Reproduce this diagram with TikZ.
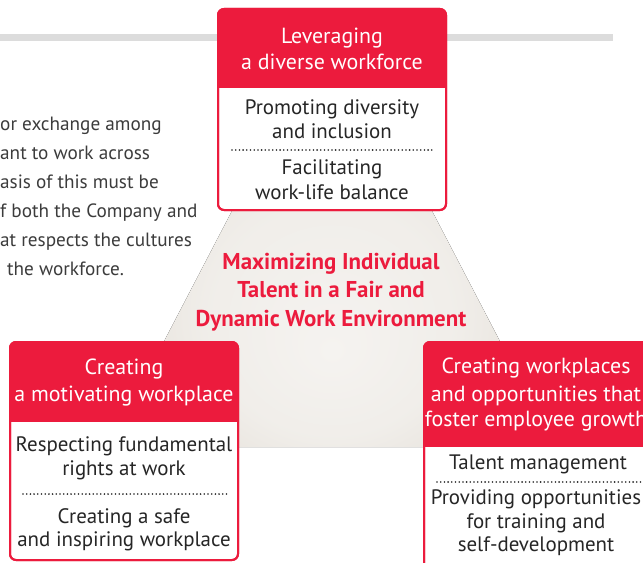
\documentclass[tikz,border=0pt]{standalone}
\usepackage{fontspec}
\setmainfont{PT Sans}
\definecolor{brand}{HTML}{EC1B3D}
\definecolor{barg}{HTML}{DCDCDC}
\definecolor{txt}{HTML}{262626}
\definecolor{bgin}{HTML}{F5F3F0}
\definecolor{bgout}{HTML}{D6CFC4}
\pgfdeclareradialshading{tri}{\pgfpoint{0bp}{-14bp}}{color(0bp)=(bgin); color(14bp)=(bgin!85!bgout); color(42bp)=(bgout); color(50bp)=(bgout)}
\tikzset{
  boxframe/.style={draw=brand, fill=white, line width=2bp, rounded corners=6bp},
  hdr/.style={text=white, font=\fontsize{22}{26}\selectfont, anchor=mid, inner sep=0pt, yshift=-4.5bp},
  bodyt/.style={text=txt, font=\fontsize{21}{24}\selectfont, anchor=mid, inner sep=0pt, yshift=-4.5bp},
  ttl/.style={text=brand, font=\bfseries\fontsize{23}{27}\selectfont, anchor=mid, inner sep=0pt, yshift=-5bp},
  para/.style={text=txt!90, font=\fontsize{19.3}{23}\selectfont, anchor=mid west, inner sep=0pt, yshift=-4.5bp},
  dotsep/.style={txt, line width=1.8bp, line cap=round, dash pattern=on 0pt off 3.7bp}
}
\begin{document}
\begin{tikzpicture}[x=1bp,y=-1bp]
\useasboundingbox (0,0) rectangle (643,563);
\clip (0,0) rectangle (643,563);
\fill[white] (0,0) rectangle (643,563);
% grey bar
\coordinate (barL) at (0,37.5);
\coordinate (barR) at (613,37.5);
\draw[barg, line width=7bp] (barL) -- (barR);
% background triangle
\fill[shading=tri, rounded corners=20bp] (332,19) -- (555,447) -- (109,447) -- cycle;
% left paragraph
\node[para] (p1) at (0,124) {or exchange among};
\node[para] (p2) at (0,153) {ant to work across};
\node[para] (p3) at (0,182) {asis of this must be};
\node[para] (p4) at (0,211) {f both the Company and};
\node[para] (p5) at (0,240) {at respects the cultures};
\node[para] (p6) at (7,269) {the workforce.};
% ---- top box
\draw[boxframe] (218,9) rectangle (446,210);
\begin{scope}
\clip (210,0) rectangle (455,88);
\fill[brand, rounded corners=6bp] (218,9) rectangle (446,210);
\end{scope}
\draw[brand, line width=2bp, rounded corners=6bp] (218,9) rectangle (446,210);
\node[hdr] (a1) at (332,37) {Leveraging};
\node[hdr] (a2) at (332,63) {a diverse workforce};
\node[bodyt] (a3) at (332,108) {Promoting diversity};
\node[bodyt] (a4) at (332,132) {and inclusion};
\coordinate (ad1) at (232,150);
\coordinate (ad2) at (435,150);
\draw[dotsep] (ad1) -- (ad2);
\node[bodyt] (a5) at (332,168) {Facilitating};
\node[bodyt] (a6) at (332,193) {work-life balance};
% ---- centre title
\node[ttl] (c1) at (331,262) {Maximizing Individual};
\node[ttl] (c2) at (331,290.5) {Talent in a Fair and};
\node[ttl] (c3) at (331,319) {Dynamic Work Environment};
% ---- left box
\draw[boxframe] (10,342) rectangle (238,560);
\begin{scope}
\clip (0,330) rectangle (250,421);
\fill[brand, rounded corners=6bp] (10,342) rectangle (238,560);
\end{scope}
\draw[brand, line width=2bp, rounded corners=6bp] (10,342) rectangle (238,560);
\node[hdr] (b1) at (124,368) {Creating};
\node[hdr] (b2) at (124,395) {a motivating workplace};
\node[bodyt] (b3) at (124,445) {Respecting fundamental};
\node[bodyt] (b4) at (124,469) {rights at work};
\coordinate (bd1) at (23,494);
\coordinate (bd2) at (227,494);
\draw[dotsep] (bd1) -- (bd2);
\node[bodyt] (b5) at (124,517) {Creating a safe};
\node[bodyt] (b6) at (124,540) {and inspiring workplace};
% ---- right box
\draw[boxframe] (424,342) rectangle (690,600);
\begin{scope}
\clip (410,330) rectangle (700,446);
\fill[brand, rounded corners=6bp] (424,342) rectangle (690,600);
\end{scope}
\draw[brand, line width=2bp, rounded corners=6bp] (424,342) rectangle (690,600);
\node[hdr] (r1) at (536,367) {Creating workplaces};
\node[hdr] (r2) at (536,395) {and opportunities that};
\node[hdr] (r3) at (536,420) {foster employee growth};
\node[bodyt] (r4) at (538,463) {Talent management};
\coordinate (rd1) at (437,482);
\coordinate (rd2) at (650,482);
\draw[dotsep] (rd1) -- (rd2);
\node[bodyt] (r5) at (536,498) {Providing opportunities};
\node[bodyt] (r6) at (536,522) {for training and};
\node[bodyt] (r7) at (536,545) {self-development};
\end{tikzpicture}
\end{document}
